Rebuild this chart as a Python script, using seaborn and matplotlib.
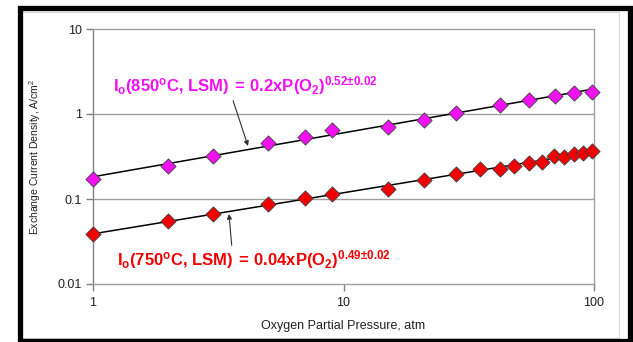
import numpy as np
import pandas as pd
import matplotlib
matplotlib.use("Agg")
import matplotlib.pyplot as plt
from matplotlib.patches import Rectangle
import seaborn as sns

# Oxygen partial pressure (atm) and exchange current density (A/cm^2)
p_850 = [1, 2, 3, 5, 7, 9, 15, 21, 28, 42, 55, 70, 83, 98]
i_850 = [0.17, 0.245, 0.32, 0.45, 0.54, 0.65, 0.70, 0.85, 1.03, 1.29, 1.46, 1.63, 1.78, 1.82]

p_750 = [1, 2, 3, 5, 7, 9, 15, 21, 28, 35, 42, 48, 55, 62, 69, 76, 83, 90, 98]
i_750 = [0.0387, 0.0556, 0.066, 0.0865, 0.1035, 0.115, 0.13, 0.167, 0.195, 0.225,
         0.224, 0.246, 0.263, 0.275, 0.323, 0.315, 0.338, 0.351, 0.367]

x_ticks = [1, 10, 100]
x_tick_labels = ["1", "10", "100"]
y_ticks = [0.01, 0.1, 1, 10]
y_tick_labels = ["0.01", "0.1", "1", "10"]

label_850 = r"$\mathbf{I_o(850^oC{,}\ LSM)\:{=}\:0.2xP(O_2)^{0.52{\pm}0.02}}$"
label_750 = r"$\mathbf{I_o(750^oC{,}\ LSM)\:{=}\:0.04xP(O_2)^{0.49{\pm}0.02}}$"

sns.set_style("white")
plt.rcParams["font.family"] = ["Liberation Sans", "DejaVu Sans"]
plt.rcParams["mathtext.fontset"] = "custom"
plt.rcParams["mathtext.rm"] = "Liberation Sans"
plt.rcParams["mathtext.it"] = "Liberation Sans"
plt.rcParams["mathtext.bf"] = "Liberation Sans:bold"

MAGENTA = "#F010F0"
RED = "#F00000"

df850 = pd.DataFrame({"p": p_850, "i": i_850})
df750 = pd.DataFrame({"p": p_750, "i": i_750})


def power_fit(df):
    slope, icpt = np.polyfit(np.log10(df["p"]), np.log10(df["i"]), 1)
    xs = np.geomspace(1, 100, 50)
    return pd.DataFrame({"p": xs, "i": 10 ** icpt * xs ** slope})


fig = plt.figure(figsize=(6.33, 3.42), dpi=100)
ax = fig.add_axes([93 / 633, 1 - 284 / 342, 501 / 633, 255 / 342])
ax.set_xscale("log")
ax.set_yscale("log")

# Power-law fit lines
sns.lineplot(data=power_fit(df850), x="p", y="i", color="black", lw=1.1, ax=ax, zorder=2)
sns.lineplot(data=power_fit(df750), x="p", y="i", color="black", lw=1.1, ax=ax, zorder=2)

# Measured points
sns.scatterplot(data=df850, x="p", y="i", marker="D", s=60, color=MAGENTA,
                edgecolor="#404040", linewidth=0.6, ax=ax, zorder=3, clip_on=False)
sns.scatterplot(data=df750, x="p", y="i", marker="D", s=60, color=RED,
                edgecolor="#404040", linewidth=0.6, ax=ax, zorder=3, clip_on=False)

ax.set_xlim(1, 100)
ax.set_ylim(0.01, 10)
ax.set_xticks(x_ticks)
ax.set_xticklabels(x_tick_labels)
ax.set_yticks(y_ticks)
ax.set_yticklabels(y_tick_labels)
ax.minorticks_off()
ax.tick_params(axis="both", which="major", length=5, width=1, color="#808080",
               labelsize=9, labelcolor="#202020", direction="out", pad=3)
ax.tick_params(axis="x", pad=4)
ax.xaxis.set_ticks_position("bottom")
ax.yaxis.set_ticks_position("left")

for y in [0.1, 1]:
    ax.axhline(y, color="#A0A0A0", lw=1, zorder=1)
for side in ["left", "right", "top", "bottom"]:
    ax.spines[side].set_visible(True)
    ax.spines[side].set_color("#A0A0A0")
    ax.spines[side].set_linewidth(1)
ax.spines["left"].set_color("#808080")

ax.set_xlabel("Oxygen Partial Pressure, atm", fontsize=9, color="#202020")
ax.set_ylabel("Exchange Current Density, A/cm$^2$", fontsize=7.5, color="#202020")
ax.xaxis.set_label_coords(0.5, -36 / 255)
ax.yaxis.set_label_coords(-50 / 501, 0.5)

# Equation labels with arrows pointing at the fit lines
ax.annotate(label_850, xy=(248, 342 - 146), xycoords="figure pixels",
            xytext=(113, 342 - 86), textcoords="figure pixels",
            fontsize=12, color=MAGENTA, ha="left", va="center",
            arrowprops=dict(arrowstyle="-|>", color="#303030", lw=0.8,
                            mutation_scale=7, shrinkA=0, shrinkB=0,
                            relpos=(0.45, 0.0)))
ax.annotate(label_750, xy=(229, 342 - 214), xycoords="figure pixels",
            xytext=(117, 342 - 260), textcoords="figure pixels",
            fontsize=12, color=RED, ha="left", va="center",
            arrowprops=dict(arrowstyle="-|>", color="#303030", lw=0.8,
                            mutation_scale=7, shrinkA=0, shrinkB=0,
                            relpos=(0.42, 1.0)))

# Slide frame
fig.add_artist(Rectangle((22 / 633, 1 - 338 / 342), 597 / 633, 326 / 342,
                         transform=fig.transFigure, fill=False, ec="#D8D8D8", lw=0.8))
fig.add_artist(Rectangle((19.5 / 633, 1 - 341 / 342), 610.5 / 633, 333 / 342,
                         transform=fig.transFigure, fill=False, ec="black", lw=3.8))

fig.savefig("out.png", dpi=100)
